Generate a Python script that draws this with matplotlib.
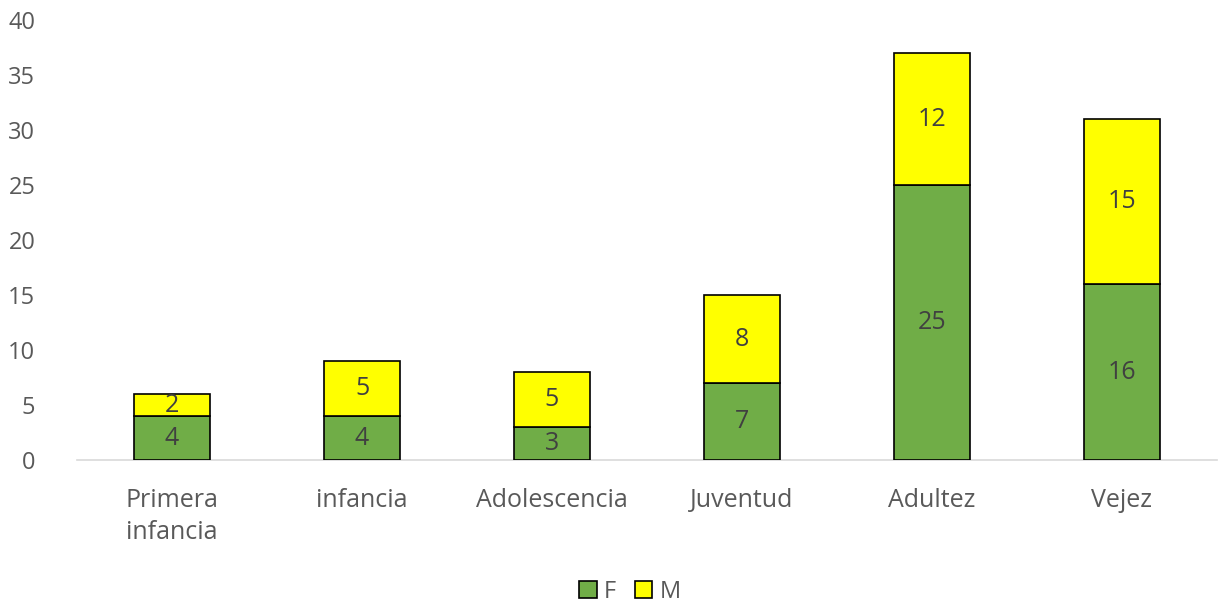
import matplotlib
matplotlib.use("Agg")
import matplotlib.pyplot as plt
import numpy as np

categories = ["Primera\ninfancia", "infancia", "Adolescencia", "Juventud", "Adultez", "Vejez"]
f_values = [4, 4, 3, 7, 25, 16]
m_values = [2, 5, 5, 8, 12, 15]
y_ticks = [0, 5, 10, 15, 20, 25, 30, 35, 40]

plt.rcParams['font.family'] = ['Open Sans', 'DejaVu Sans']
fig = plt.figure(figsize=(12.23, 6.07), dpi=100)
ax = fig.add_axes([0.063, 0.242, 0.932, 0.725])

x = np.arange(len(categories))
green = "#70AD47"
yellow = "#FFFF00"
b1 = ax.bar(x, f_values, width=0.4, color=green, edgecolor="black", linewidth=1.2, label="F", zorder=3)
b2 = ax.bar(x, m_values, width=0.4, bottom=f_values, color=yellow, edgecolor="black", linewidth=1.2, label="M", zorder=3)

for i in range(len(x)):
    ax.text(x[i], f_values[i] / 2, str(f_values[i]), ha="center", va="center",
            fontsize=18, color="#404040", zorder=4)
    ax.text(x[i], f_values[i] + m_values[i] / 2, str(m_values[i]), ha="center", va="center",
            fontsize=18, color="#404040", zorder=4)

ax.set_xlim(-0.5, len(categories) - 0.5)
ax.set_ylim(0, 40)
ax.set_yticks(y_ticks)
ax.set_xticks(x)
ax.set_xticklabels(categories, fontsize=18, color="#595959", linespacing=1.35, multialignment="left")
ax.tick_params(axis="y", labelsize=17, labelcolor="#595959", length=0, pad=30)
ax.tick_params(axis="x", length=0, pad=20)
for s in ["top", "right", "left"]:
    ax.spines[s].set_visible(False)
ax.spines["bottom"].set_color("#D9D9D9")
ax.spines["bottom"].set_linewidth(1.2)

leg = fig.legend(handles=[b1, b2], labels=["F", "M"], loc="center", bbox_to_anchor=(0.515, 0.025),
                 ncol=2, frameon=False, fontsize=17, handlelength=0.75, handleheight=0.75,
                 handletextpad=0.3, columnspacing=0.8, labelcolor="#595959")

fig.savefig("out.png", dpi=100)
